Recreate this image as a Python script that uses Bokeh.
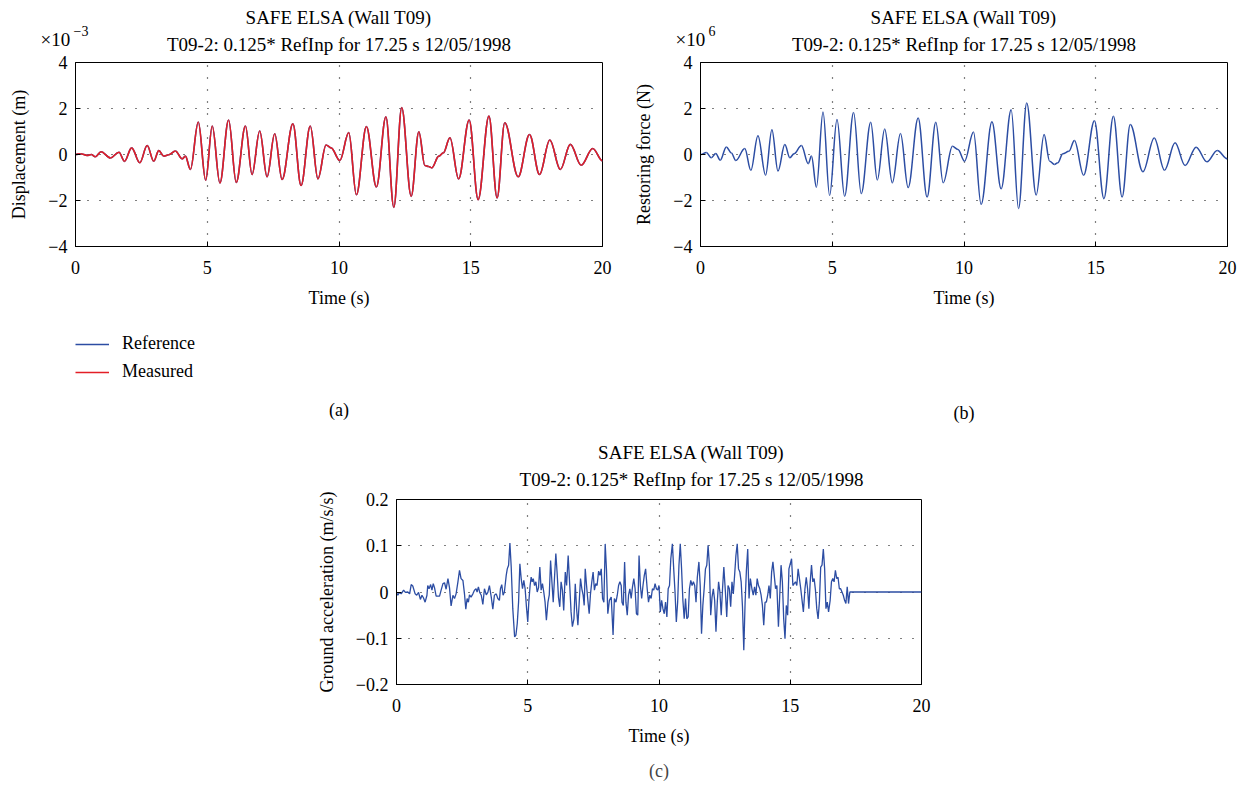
from bokeh.plotting import figure
from bokeh.models import Range1d, FixedTicker, Label, Title, Legend, LegendItem, Spacer
from bokeh.layouts import row, column
from bokeh.embed import file_html
from bokeh.resources import INLINE

# ---------------- data ----------------
title_line1 = "SAFE ELSA (Wall T09)"
title_line2 = "T09-2: 0.125* RefInp for 17.25 s 12/05/1998"

x_ticks = [0, 5, 10, 15, 20]
ab_y_ticks = [-4, -2, 0, 2, 4]
ab_y_labels = ["\u22124", "\u22122", "0", "2", "4"]
c_y_ticks = [-0.2, -0.1, 0, 0.1, 0.2]
c_y_labels = ["\u22120.2", "\u22120.1", "0", "0.1", "0.2"]

# (a) displacement, units of 1e-3 m
disp_time = [0.00, 0.19, 0.44, 0.60, 0.75, 0.97, 1.33, 1.65, 1.86, 2.13, 2.44, 2.72, 2.97, 3.16,
             3.35, 3.54, 3.79, 4.05, 4.17, 4.36, 4.66, 4.94, 5.19, 5.48, 5.81, 6.10, 6.45, 6.70,
             6.99, 7.27, 7.56, 7.84, 8.25, 8.56, 8.91, 9.20, 9.51, 9.70, 10.03, 10.37, 10.66,
             11.04, 11.42, 11.78, 12.08, 12.38, 12.74, 13.03, 13.26, 13.40, 13.52, 13.79, 13.96,
             14.21, 14.54, 14.94, 15.28, 15.69, 16.00, 16.29, 16.80, 17.23, 17.61, 18.00, 18.40,
             18.78, 19.19, 19.63, 20.00]
disp_reference = [0.00, 0.03, -0.04, 0.00, -0.10, 0.12, -0.15, 0.10, -0.30, 0.29, -0.36, 0.39,
                  -0.29, 0.17, -0.07, -0.01, 0.15, -0.19, -0.07, -0.65, 1.41, -1.12, 1.24, -1.24,
                  1.50, -1.21, 1.24, -0.87, 1.02, -0.97, 0.90, -1.09, 1.34, -1.35, 1.24, -1.06,
                  0.41, 0.29, -0.26, 0.95, -1.75, 1.21, -1.41, 1.64, -2.30, 2.04, -1.82, 0.99,
                  -0.48, -0.52, -0.58, -0.07, 0.07, 0.73, -1.06, 1.50, -1.96, 1.67, -1.89, 1.38,
                  -0.97, 0.87, -0.87, 0.63, -0.65, 0.44, -0.47, 0.26, -0.28]
disp_measured = [0.00, 0.03, -0.04, 0.00, -0.10, 0.12, -0.15, 0.10, -0.30, 0.29, -0.36, 0.39,
                 -0.29, 0.17, -0.07, -0.01, 0.15, -0.19, -0.07, -0.65, 1.41, -1.12, 1.24, -1.24,
                 1.50, -1.21, 1.24, -0.87, 1.02, -0.97, 0.90, -1.09, 1.34, -1.35, 1.24, -1.06,
                 0.41, 0.29, -0.26, 0.95, -1.75, 1.21, -1.41, 1.64, -2.30, 2.04, -1.82, 0.99,
                 -0.48, -0.52, -0.58, -0.07, 0.07, 0.73, -1.06, 1.50, -1.96, 1.67, -1.89, 1.38,
                 -0.97, 0.87, -0.87, 0.63, -0.65, 0.44, -0.47, 0.26, -0.28]

# (b) restoring force, units of 1e6 N
force_time = [0.00, 0.03, 0.22, 0.41, 0.58, 0.75, 0.98, 1.17, 1.34, 1.68, 1.91, 2.18, 2.47, 2.71,
              2.94, 3.20, 3.39, 3.55, 3.83, 4.09, 4.21, 4.40, 4.65, 4.90, 5.18, 5.47, 5.81, 6.10,
              6.46, 6.71, 6.99, 7.28, 7.59, 7.88, 8.26, 8.60, 8.93, 9.21, 9.56, 9.77, 10.02,
              10.36, 10.65, 11.06, 11.41, 11.79, 12.07, 12.38, 12.74, 13.04, 13.25, 13.43, 13.56,
              13.75, 13.98, 14.19, 14.54, 14.95, 15.31, 15.67, 16.00, 16.31, 16.79, 17.22, 17.61,
              18.01, 18.39, 18.81, 19.22, 19.61, 20.00]
force_values = [0.00, 0.00, 0.09, -0.14, 0.04, -0.25, 0.33, 0.07, -0.26, 0.26, -0.69, 0.82, -0.90,
                1.08, -0.72, 0.43, -0.14, 0.03, 0.39, -0.40, -0.07, -1.42, 1.85, -1.78, 1.52,
                -1.81, 1.83, -1.70, 1.40, -1.11, 1.11, -1.23, 0.91, -1.44, 1.59, -1.85, 1.40,
                -1.23, 0.36, 0.22, -0.29, 0.98, -2.17, 1.42, -1.49, 1.95, -2.35, 2.24, -1.76,
                0.87, -0.29, -0.43, -0.36, 0.03, 0.14, 0.61, -0.90, 1.47, -1.92, 1.66, -1.85,
                1.30, -0.75, 0.72, -0.68, 0.51, -0.48, 0.32, -0.32, 0.17, -0.19]

# (c) ground acceleration, m/s/s
acc_time = [0.00, 0.05, 0.11, 0.18, 0.27, 0.34, 0.43, 0.50, 0.56, 0.62,
            0.71, 0.77, 0.84, 0.91, 0.97, 1.03, 1.09, 1.16, 1.19, 1.24,
            1.30, 1.35, 1.40, 1.45, 1.51, 1.57, 1.64, 1.70, 1.77, 1.83,
            1.89, 1.96, 2.02, 2.08, 2.15, 2.21, 2.27, 2.34, 2.40, 2.46,
            2.53, 2.59, 2.64, 2.69, 2.74, 2.78, 2.84, 2.91, 2.97, 3.03,
            3.07, 3.12, 3.17, 3.23, 3.29, 3.35, 3.42, 3.48, 3.54, 3.61,
            3.67, 3.73, 3.80, 3.86, 3.92, 3.96, 4.01, 4.06, 4.11, 4.18,
            4.22, 4.27, 4.32, 4.37, 4.43, 4.50, 4.55, 4.60, 4.65, 4.70,
            4.75, 4.80, 4.85, 4.90, 4.95, 5.00, 5.04, 5.09, 5.13, 5.17,
            5.21, 5.26, 5.31, 5.36, 5.41, 5.46, 5.51, 5.56, 5.61, 5.66,
            5.71, 5.77, 5.82, 5.87, 5.92, 5.97, 6.02, 6.07, 6.12, 6.17,
            6.22, 6.27, 6.32, 6.37, 6.43, 6.48, 6.54, 6.60, 6.65, 6.70,
            6.76, 6.81, 6.86, 6.91, 6.96, 7.01, 7.06, 7.11, 7.15, 7.19,
            7.24, 7.29, 7.34, 7.39, 7.44, 7.49, 7.54, 7.59, 7.64, 7.70,
            7.75, 7.80, 7.85, 7.90, 7.95, 8.00, 8.05, 8.11, 8.18, 8.25,
            8.30, 8.36, 8.41, 8.46, 8.51, 8.56,
            8.59, 8.64, 8.69, 8.74, 8.79, 8.84, 8.89, 8.94, 8.99, 9.04,
            9.09, 9.14, 9.19, 9.24, 9.29, 9.34, 9.39, 9.44, 9.49, 9.55,
            9.60, 9.65, 9.70, 9.75, 9.80, 9.85, 9.90, 9.95, 10.00, 10.05,
            10.10, 10.15, 10.20, 10.25, 10.30, 10.35, 10.40, 10.45, 10.51, 10.56,
            10.61, 10.66, 10.71, 10.76, 10.81, 10.86, 10.91, 10.96, 11.01, 11.06,
            11.11, 11.16, 11.21, 11.26, 11.31, 11.36, 11.41, 11.46, 11.52, 11.57,
            11.62, 11.67, 11.72, 11.77, 11.82, 11.87, 11.92, 11.97, 12.02, 12.07,
            12.12, 12.17, 12.22, 12.27, 12.32, 12.37, 12.42, 12.47, 12.53, 12.58,
            12.63, 12.68, 12.73, 12.78, 12.83, 12.88, 12.93, 12.98, 13.03, 13.08,
            13.13, 13.18, 13.23, 13.28, 13.33, 13.38, 13.43, 13.48, 13.54, 13.59,
            13.64, 13.69, 13.74, 13.79, 13.84, 13.89, 13.94, 13.99, 14.04, 14.09,
            14.14, 14.19, 14.24, 14.29, 14.34, 14.39, 14.44, 14.49, 14.55, 14.60,
            14.65, 14.70, 14.75, 14.80, 14.85, 14.90, 14.95, 15.00, 15.05, 15.10,
            15.15, 15.20, 15.25, 15.30, 15.35, 15.40, 15.45, 15.50, 15.56, 15.61,
            15.66, 15.71, 15.76, 15.81, 15.86, 15.91, 15.96, 16.01, 16.06, 16.11,
            16.16, 16.21, 16.26, 16.31, 16.36, 16.41, 16.46, 16.52, 16.57, 16.62,
            16.67, 16.72, 16.77, 16.82, 16.87, 16.92, 16.97, 17.02, 17.07, 17.12,
            17.17, 17.22, 17.27, 20.00]
acc_values = [-0.001, -0.007, -0.001, -0.004, 0.004, -0.001, 0.000, -0.004, 0.016, 0.013,
              -0.004, -0.007, -0.001, -0.016, -0.007, -0.013, -0.022, -0.007, 0.014, 0.007,
              0.016, 0.004, 0.018, 0.009, -0.009, -0.009, -0.009, 0.004, 0.018, 0.020,
              0.006, 0.029, 0.009, -0.030, -0.007, -0.014, -0.004, 0.022, 0.047, 0.029,
              0.025, -0.004, -0.037, -0.014, -0.022, -0.006, -0.011, -0.004, 0.004, 0.007,
              0.000, 0.011, -0.001, -0.007, -0.027, 0.007, -0.006, -0.001, 0.014, -0.011,
              -0.037, -0.007, -0.004, -0.014, -0.018, 0.007, 0.016, -0.007, 0.000, 0.036,
              0.050, 0.058, 0.106, 0.054, -0.036, -0.097, -0.093, -0.068, -0.022, 0.061,
              0.029, 0.007, 0.025, 0.007, -0.032, -0.065, -0.022, 0.014, 0.032, 0.022,
              0.029, 0.014, 0.022, 0.000, 0.009, 0.054, 0.004, 0.018, 0.000, -0.022,
              -0.061, -0.022, -0.006, 0.068, 0.022, -0.022, 0.032, 0.083, 0.040, -0.011,
              -0.032, 0.022, 0.004, -0.040, 0.043, 0.014, 0.079, 0.014, -0.043, -0.075,
              -0.058, 0.018, -0.036, -0.072, -0.022, 0.029, 0.007, -0.007, -0.029, 0.050,
              0.014, -0.018, -0.047, -0.004, 0.022, 0.043, 0.004, 0.018, 0.014, 0.045,
              0.036, 0.050, -0.014, -0.022, 0.104, 0.047, -0.047, -0.018, -0.011, -0.093,
              -0.014, -0.022, -0.007, 0.014, 0.022, 0.014,
              -0.022, -0.029, 0.065, -0.022, -0.050, -0.007, 0.007, -0.014, 0.011, 0.029,
              0.007, -0.047, -0.050, 0.079, 0.014, -0.014, 0.014, 0.036, 0.050, 0.007,
              -0.022, -0.007, -0.014, 0.007, 0.004, 0.018, 0.007, 0.004, 0.014, -0.043,
              -0.018, -0.036, -0.047, -0.022, -0.054, 0.007, 0.014, 0.072, 0.104, 0.050,
              0.000, -0.065, -0.022, 0.058, 0.104, 0.050, -0.018, -0.058, -0.014, -0.058,
              -0.054, 0.007, 0.025, 0.014, 0.022, 0.014, -0.022, 0.032, 0.065, 0.014,
              -0.090, -0.029, 0.007, 0.050, 0.058, 0.101, 0.058, -0.050, -0.011, 0.007,
              -0.018, -0.086, -0.022, 0.022, 0.000, -0.050, 0.007, 0.054, 0.000, -0.054,
              0.014, 0.007, -0.032, 0.022, -0.004, 0.036, 0.079, 0.104, 0.050, 0.043,
              0.022, -0.032, -0.126, -0.022, 0.047, 0.093, -0.014, 0.029, 0.007, -0.007,
              0.011, -0.007, 0.029, 0.014, 0.007, -0.007, -0.029, -0.072, -0.022, -0.022,
              -0.007, 0.014, -0.014, 0.043, 0.065, 0.036, 0.007, 0.014, -0.075, -0.007,
              0.058, 0.022, -0.058, -0.101, -0.029, -0.050, 0.050, 0.061, 0.072, 0.014,
              0.018, 0.022, 0.014, 0.050, 0.029, 0.007, -0.018, -0.043, 0.007, 0.032,
              0.007, -0.036, 0.022, 0.058, 0.022, 0.029, 0.004, -0.036, -0.058, -0.022,
              0.054, 0.058, 0.093, 0.050, -0.036, -0.022, -0.043, -0.018, 0.022, 0.029,
              0.022, 0.047, 0.029, 0.032, 0.007, 0.007, 0.000, -0.007, -0.018, -0.025,
              0.011, -0.025, 0.000, 0.000]

# ---------------- styling ----------------
FONT = "Liberation Serif"
FS = "18px"
TFS = "19px"
BLUE = "#2c4da3"
RED = "#e31e26"


def canvas(w, h, x0, y_top, left=0, top=0):
    """A bare figure whose data space is page pixels, used for the texts around the plots."""
    c = figure(width=w, height=h, x_range=Range1d(x0 + left, x0 + w),
               y_range=Range1d(y_top + h, y_top + top),
               x_axis_location=None, y_axis_location=None,
               min_border_left=left, min_border_right=0, min_border_top=top, min_border_bottom=0,
               output_backend="svg", toolbar_location=None)
    c.outline_line_color = None
    c.grid.visible = False
    c.background_fill_color = None
    c.border_fill_color = None
    return c


def text(c, x, y, s, size=FS, align="center", baseline="middle"):
    c.add_layout(Label(x=x, y=y, text=s, text_font=FONT, text_font_size=size, text_color="black",
                       text_align=align, text_baseline=baseline))


def make_fig(left, right, top, bottom, fw, fh, yr, yticks, ylabels, ylabel):
    p = figure(frame_width=fw, frame_height=fh,
               min_border_left=left, min_border_right=right,
               min_border_top=top, min_border_bottom=bottom,
               x_range=Range1d(0, 20), y_range=Range1d(*yr),
               output_backend="svg", toolbar_location=None)
    p.background_fill_color = "white"
    p.border_fill_color = None
    p.outline_line_color = "black"
    p.outline_line_alpha = 1.0
    p.outline_line_width = 1
    p.xaxis.ticker = FixedTicker(ticks=x_ticks)
    p.yaxis.ticker = FixedTicker(ticks=yticks)
    p.yaxis.major_label_overrides = {t: l for t, l in zip(yticks, ylabels)}
    p.xaxis.axis_label = "Time (s)"
    p.yaxis.axis_label = ylabel
    for ax in p.axis:
        ax.axis_line_color = "black"
        ax.major_tick_line_color = "black"
        ax.major_tick_in = 5
        ax.major_tick_out = 0
        ax.minor_tick_line_color = None
        ax.major_label_text_font = FONT
        ax.major_label_text_font_size = FS
        ax.major_label_text_color = "black"
        ax.axis_label_text_font = FONT
        ax.axis_label_text_font_size = FS
        ax.axis_label_text_font_style = "normal"
        ax.axis_label_text_color = "black"
    p.xaxis.major_label_standoff = 14
    p.xaxis.axis_label_standoff = 11
    p.yaxis.major_label_standoff = 8
    p.yaxis.axis_label_standoff = 16
    p.grid.grid_line_color = "black"
    p.grid.grid_line_alpha = 1.0
    p.grid.grid_line_width = 1.2
    p.grid.grid_line_dash = "1 11"
    return p


def smooth_line(p, xs, ys, color, width):
    # each step between read points drawn as a rounded (cubic Bezier) stroke
    x0, x1, y0, y1 = xs[:-1], xs[1:], ys[:-1], ys[1:]
    cx0 = [a + 0.36 * (b - a) for a, b in zip(x0, x1)]
    cx1 = [b - 0.36 * (b - a) for a, b in zip(x0, x1)]
    return p.bezier(x0=x0, y0=y0, x1=x1, y1=y1, cx0=cx0, cy0=y0, cx1=cx1, cy1=y1,
                    line_color=color, line_width=width)


# ---- headers (titles and axis multipliers) ----
head_a = canvas(623, 62, 0, 0)
text(head_a, 338.5, 17, title_line1, TFS)
text(head_a, 338.5, 44, title_line2, TFS)
text(head_a, 40, 39, "\u00d710", TFS, align="left", baseline="alphabetic")
text(head_a, 73, 30, "\u22123", "14px", align="left", baseline="alphabetic")

head_b = canvas(623, 62, 623, 0)
text(head_b, 963.5, 17, title_line1, TFS)
text(head_b, 963.5, 44, title_line2, TFS)
text(head_b, 675, 39, "\u00d710", TFS, align="left", baseline="alphabetic")
text(head_b, 708, 30, "6", "14px", align="left", baseline="alphabetic")

# ---- (a) displacement ----
TOP_AB = 12
pa = make_fig(75, 21, TOP_AB, 68, 527, 184, (-4, 4), ab_y_ticks, ab_y_labels, "Displacement (m)")
smooth_line(pa, disp_time, disp_reference, BLUE, 1.6)
smooth_line(pa, disp_time, disp_measured, RED, 1.6)

# ---- (b) restoring force ----
pb = make_fig(77, 19, TOP_AB, 68, 527, 184, (-4, 4), ab_y_ticks, ab_y_labels, "Restoring force (N)")
smooth_line(pb, force_time, force_values, BLUE, 1.5)

# ---- strip under (a) and (b): legend and panel letters ----
mid_a = canvas(623, 116, 0, 314, left=75, top=19)
leg_ref = mid_a.line(x=[float("nan")], y=[float("nan")], line_color=BLUE, line_width=1.4)
leg_meas = mid_a.line(x=[float("nan")], y=[float("nan")], line_color=RED, line_width=1.4)
legend = Legend(items=[LegendItem(label="Reference", renderers=[leg_ref]),
                       LegendItem(label="Measured", renderers=[leg_meas])],
                location="top_left", orientation="vertical",
                label_text_font=FONT, label_text_font_size=FS, label_text_color="black",
                glyph_width=34, glyph_height=20, label_height=20, spacing=7,
                label_standoff=13, padding=0, margin=0,
                border_line_alpha=0, background_fill_alpha=0)
mid_a.add_layout(legend, "center")
text(mid_a, 338.5, 409, "(a)")

mid_b = canvas(623, 116, 623, 314)
text(mid_b, 963.5, 409, "(b)")

# ---- (c) ground acceleration ----
head_c = canvas(645, 69, 296, 430)
text(head_c, 658.5, 452, title_line1, TFS)
text(head_c, 658.5, 479, title_line2, TFS)

TOP_C = 26
pc = make_fig(100, 20, TOP_C, 106, 525, 185, (-0.2, 0.2), c_y_ticks, c_y_labels,
              "Ground acceleration (m/s/s)")
pc.line(acc_time, acc_values, line_color=BLUE, line_width=1.3)
pc.add_layout(Title(text="(c)", text_font=FONT, text_font_size=FS, text_font_style="normal",
                    align="center", standoff=20), "below")
pc.margin = (-TOP_C, 0, 0, 0)

layout = column(
    row(head_a, head_b, spacing=0),
    row(pa, pb, spacing=0, margin=(-TOP_AB, 0, 0, 0)),
    row(mid_a, mid_b, spacing=0),
    row(Spacer(width=296, height=360), column(head_c, pc, spacing=0), spacing=0),
    spacing=0)

open("out.html", "w").write(file_html(layout, INLINE))
